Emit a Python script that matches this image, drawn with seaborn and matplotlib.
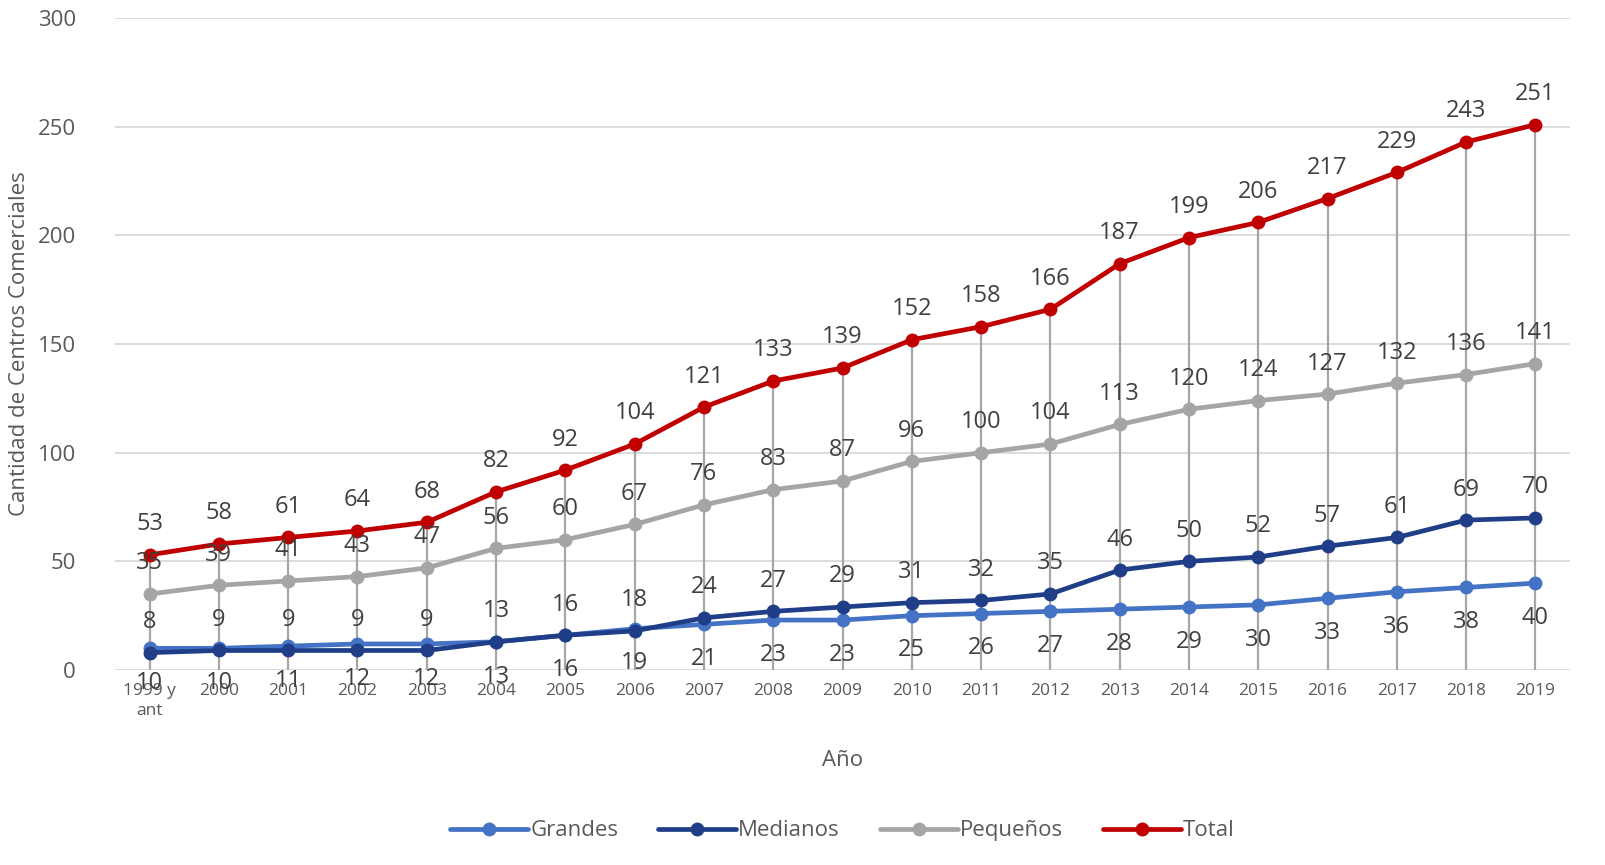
import numpy as np
import pandas as pd
import seaborn as sns
from matplotlib import pyplot as plt

years = ["1999 y\nant"] + [str(y) for y in range(2000, 2020)]
grandes = [10, 10, 11, 12, 12, 13, 16, 19, 21, 23, 23, 25, 26, 27, 28, 29, 30, 33, 36, 38, 40]
medianos = [8, 9, 9, 9, 9, 13, 16, 18, 24, 27, 29, 31, 32, 35, 46, 50, 52, 57, 61, 69, 70]
pequenos = [35, 39, 41, 43, 47, 56, 60, 67, 76, 83, 87, 96, 100, 104, 113, 120, 124, 127, 132, 136, 141]
total = [53, 58, 61, 64, 68, 82, 92, 104, 121, 133, 139, 152, 158, 166, 187, 199, 206, 217, 229, 243, 251]

series = [
    ("Grandes", grandes, "#4472c4", -25),
    ("Medianos", medianos, "#203e88", 22),
    ("Pequeños", pequenos, "#a5a5a5", 22),
    ("Total", total, "#c00000", 22),
]

sns.set_theme(style="white")
plt.rcParams['font.family'] = ['Open Sans', 'DejaVu Sans']

fig = plt.figure(figsize=(16.06, 8.65), dpi=100)
ax = fig.add_axes([0.0716, 0.2254, 0.906, 0.7536])

x = np.arange(len(years))

# drop lines from total down to the axis
ax.vlines(x, 0, total, color="#a6a6a6", linewidth=1.6, zorder=1)

for name, vals, color, off in series:
    df = pd.DataFrame({"x": x, "y": vals})
    sns.lineplot(data=df, x="x", y="y", ax=ax, color=color, linewidth=3.4,
                 marker="o", markersize=10, markeredgewidth=0, label=name, zorder=3)
    for xi, v in zip(x, vals):
        ax.annotate(str(v), (xi, v), textcoords="offset points", xytext=(0, off),
                    ha="center", va="center", fontsize=17, color="#404040", zorder=4)

ax.set_xlim(-0.5, len(years) - 0.5)
ax.set_ylim(0, 300)
ax.set_yticks(range(0, 301, 50))
ax.set_xticks(x)
ax.set_xticklabels(years, fontsize=12.5, color="#595959", linespacing=1.4)
ax.tick_params(axis="y", labelsize=16, labelcolor="#595959", pad=22)
ax.tick_params(axis="x", pad=9, length=0)
ax.grid(axis="y", color="#d9d9d9", linewidth=1.3)
ax.set_axisbelow(True)
for s in ax.spines.values():
    s.set_visible(False)

ax.set_xlabel("Año", fontsize=16, color="#595959", labelpad=22)
ax.set_ylabel("Cantidad de Centros Comerciales", fontsize=16, color="#595959", labelpad=6)

leg = ax.legend(loc="upper center", bbox_to_anchor=(0.5, -0.2), ncol=4, frameon=False,
                fontsize=16, handlelength=3.5, handletextpad=0.1, columnspacing=1.8)
for t in leg.get_texts():
    t.set_color("#595959")

fig.savefig("out.png", dpi=100)
